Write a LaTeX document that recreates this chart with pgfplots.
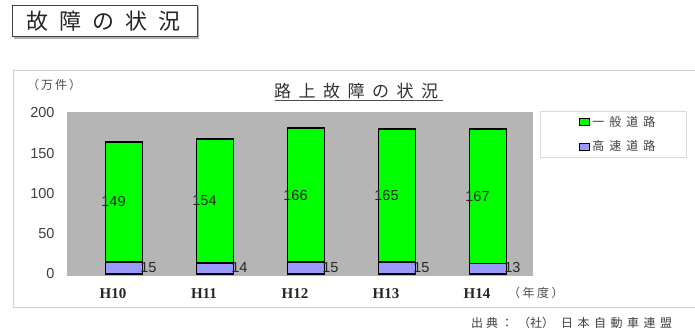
\documentclass[border=0pt]{standalone}
\usepackage{pgfplots}
\pgfplotsset{compat=1.18}
\usepackage{pgfplotstable}
\usepackage{fontspec}
\setmainfont{Liberation Sans}
\newfontfamily\jp{Noto Sans CJK JP}
\newfontfamily\yearfont{Liberation Serif}

\definecolor{ippan}{HTML}{00FF00}
\definecolor{kosoku}{HTML}{9999FF}
\definecolor{wall}{HTML}{B5B5B5}

\newcommand\gap[1]{\hspace{#1}}

% 路上故障件数（万件）: 高速道路 = hi, 一般道路 = gen
\pgfplotstableread{
x year hi gen
0 H10 15 149
1 H11 14 154
2 H12 15 166
3 H13 15 165
4 H14 13 167
}\roaddata

\pgfplotsset{
  roadframe/.style={
    at={(67pt,55pt)}, anchor=south west,
    scale only axis, width=466pt, height=164pt,
    xmin=-0.626, xmax=4.495, ymin=-2.5, ymax=201.2,
  }
}

\begin{document}
\begin{tikzpicture}[x=1pt,y=1pt]
\fill[white] (0,0) rectangle (695,331);
\begin{scope}
\clip (0,0) rectangle (695,331);

% heading box
\draw[line width=1.4pt, black!30] (14,293) -- (198.5,293) -- (198.5,324);
\draw[line width=1pt, black!75, fill=white] (12,294) rectangle (197,325);
\node[anchor=west, inner sep=0pt, text=black!85, font=\jp\fontsize{22}{22}\selectfont]
  at (26,309.5) {故\gap{11pt}障\gap{11pt}の\gap{11pt}状\gap{11pt}況};

% chart frame
\draw[black!18, line width=0.8pt] (13,23) -- (13,261) -- (695,261);
\draw[black!18, line width=1pt] (13,23) -- (695,23);

% chart title
\node[anchor=west, inner sep=0pt, text=black!80, font=\jp\fontsize{17}{17}\selectfont]
  at (274,240) {路\gap{7.5pt}上\gap{7.5pt}故\gap{7.5pt}障\gap{7.5pt}の\gap{7.5pt}状\gap{7.5pt}況};
\draw[black!70, line width=0.9pt] (275,231) -- (443,231);

% unit labels
\node[anchor=west, inner sep=0pt, text=black!70, font=\jp\fontsize{12}{12}\selectfont]
  at (27,246) {（\gap{2pt}万\gap{2pt}件\gap{2pt}）};
\node[anchor=west, inner sep=0pt, text=black!70, font=\jp\fontsize{12}{12}\selectfont]
  at (508,38) {（\gap{2.5pt}年\gap{2.5pt}度\gap{2.5pt}）};

% source (runs past the right edge)
\begin{pgfinterruptboundingbox}
\node[anchor=west, inner sep=0pt, text=black!75, font=\jp\fontsize{12}{12}\selectfont]
  at (471,8) {出\gap{3pt}典\gap{3pt}：\gap{5pt}（社）\gap{7pt}日\gap{4.5pt}本\gap{4.5pt}自\gap{4.5pt}動\gap{4.5pt}車\gap{4.5pt}連\gap{4.5pt}盟};
\end{pgfinterruptboundingbox}

\begin{axis}[
  roadframe,
  ybar stacked, bar width=0.41,
  axis background/.style={fill=wall},
  axis line style={draw=none},
  major tick length=0pt,
  xtick={0,1,2,3,4},
  xticklabels={H10,H11,H12,H13,H14},
  ytick={0,50,100,150,200},
  /pgf/number format/assume math mode=true,
  yticklabel style={font=\fontsize{14.5}{14.5}\selectfont, text=black!75, xshift=-9pt},
  xticklabel style={font=\yearfont\bfseries\fontsize{15}{15}\selectfont, text=black!85, xshift=-11pt, yshift=-9pt},
  reverse legend,
  legend cell align=left,
  legend image code/.code={\path (0pt,0pt); \draw[#1, line width=1pt] (10pt,-3.5pt) rectangle (20pt,3.5pt);},
  legend style={at={(1.015,1.006)}, anchor=north west, draw=black!15,
    fill=white, inner xsep=29pt, inner ysep=3pt, row sep=9pt,
    font=\jp\fontsize{12}{12}\selectfont, text=black!75},
]
\addplot[fill=kosoku, draw=black, line width=1.6pt] table[x=x, y=hi] {\roaddata};
\addplot[fill=ippan, draw=black, line width=1.6pt] table[x=x, y=gen] {\roaddata};
\legend{高\gap{5pt}速\gap{5pt}道\gap{5pt}路, 一\gap{5pt}般\gap{5pt}道\gap{5pt}路}
\end{axis}

% value labels
\begin{axis}[roadframe, hide axis, clip=false]
\addplot[draw=none, mark=none, nodes near coords, point meta=explicit symbolic,
  every node near coord/.append style={anchor=center, inner sep=0pt,
    font=\fontsize{14.5}{14.5}\selectfont, text=black!85}]
  table[x expr=\thisrow{x}-0.115, y expr=\thisrow{hi}+0.5*\thisrow{gen}, meta=gen] {\roaddata};
\addplot[draw=none, mark=none, nodes near coords, point meta=explicit symbolic,
  every node near coord/.append style={anchor=east, inner sep=0pt,
    font=\fontsize{14.5}{14.5}\selectfont, text=black!85}]
  table[x expr=\thisrow{x}+0.36, y expr=0.5*\thisrow{hi}+1, meta=hi] {\roaddata};
\end{axis}
\end{scope}
\end{tikzpicture}
\end{document}
